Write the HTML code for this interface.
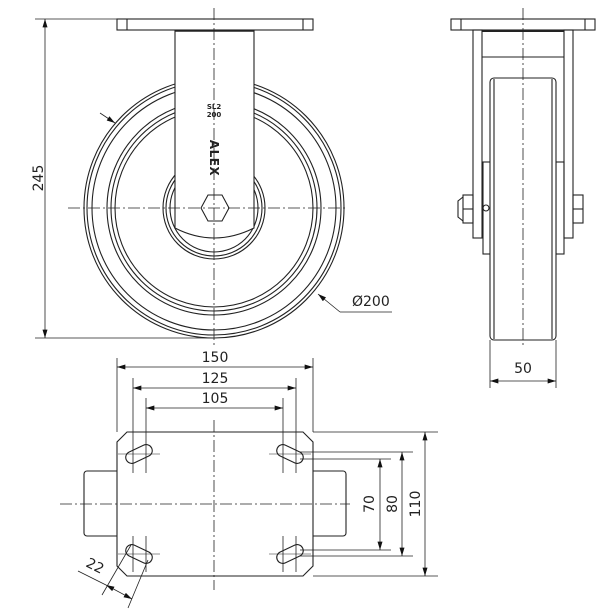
<!DOCTYPE html>
<html><head><meta charset="utf-8"><style>
html,body{margin:0;padding:0;background:#fff;}
svg{display:block;}
text{font-family:"DejaVu Sans","Liberation Sans",sans-serif;font-size:14px;fill:#222;}
</style></head><body>
<svg width="600" height="610" viewBox="0 0 600 610" xmlns="http://www.w3.org/2000/svg">
<defs>
<marker id="a" viewBox="0 0 10 6" refX="10" refY="3" markerWidth="9" markerHeight="5" orient="auto-start-reverse" markerUnits="userSpaceOnUse"><path d="M0,0L10,3L0,6z" fill="#111"/></marker>
</defs>
<g fill="none" stroke="#222" stroke-width="1.1">
<g>
<circle cx="214" cy="208" r="130"/><circle cx="214" cy="208" r="127"/><circle cx="214" cy="208" r="122"/>
<circle cx="214" cy="208" r="107"/><circle cx="214" cy="208" r="103"/><circle cx="214" cy="208" r="99"/>
<circle cx="214" cy="208" r="51"/><circle cx="214" cy="208" r="48"/><circle cx="214" cy="208" r="44"/>
</g>
<path d="M175,30 L175,228 Q214,248 254,228 L254,30 Z" fill="#fff"/>
<line x1="175" y1="30.5" x2="254" y2="30.5" stroke-width="2.5"/>
<rect x="117" y="19" width="196" height="11" fill="#fff"/>
<line x1="127" y1="19" x2="127" y2="30"/><line x1="303" y1="19" x2="303" y2="30"/>
<polygon points="201,208 208,195 222,195 229,208 222,221 208,221" fill="#fff"/>
<g stroke-width="0.8" stroke-dasharray="12,3,2,3">
<line x1="68" y1="208" x2="345" y2="208"/>
<line x1="214" y1="8" x2="214" y2="345"/>
</g>
<g stroke-width="0.8">
<line x1="35" y1="19" x2="117" y2="19"/><line x1="35" y1="338" x2="214" y2="338"/>
<line x1="45" y1="19" x2="45" y2="338" marker-start="url(#a)" marker-end="url(#a)"/>
<line x1="100" y1="113" x2="115" y2="123" marker-end="url(#a)"/>
<line x1="340" y1="312" x2="318" y2="294" marker-end="url(#a)"/>
<line x1="340" y1="312" x2="392" y2="312"/>
</g>

<rect x="451" y="19" width="144" height="11" fill="#fff"/>
<line x1="461" y1="19" x2="461" y2="30"/><line x1="585" y1="19" x2="585" y2="30"/>
<rect x="473" y="30" width="9" height="208"/><rect x="564" y="30" width="9" height="208"/>
<line x1="482" y1="57" x2="564" y2="57"/>
<line x1="482" y1="31" x2="564" y2="31" stroke-width="2"/>
<rect x="483" y="162" width="8" height="92"/><rect x="556" y="162" width="8" height="92"/>
<rect x="490" y="78" width="66" height="262" rx="4" fill="#fff"/>
<line x1="494" y1="79" x2="494" y2="339"/><line x1="552" y1="79" x2="552" y2="339"/>
<rect x="573" y="195" width="10" height="28"/><line x1="573" y1="209" x2="583" y2="209"/>
<rect x="463" y="195" width="10" height="28"/><line x1="463" y1="209" x2="473" y2="209"/>
<path d="M463,197 L458,201 L458,217 L463,221"/>
<circle cx="486" cy="208" r="3"/>
<line x1="523" y1="8" x2="523" y2="345" stroke-width="0.8" stroke-dasharray="12,3,2,3"/>
<g stroke-width="0.8">
<line x1="490" y1="340" x2="490" y2="388"/><line x1="556" y1="340" x2="556" y2="388"/>
<line x1="490" y1="381" x2="556" y2="381" marker-start="url(#a)" marker-end="url(#a)"/>
</g>

<rect x="84" y="471" width="38" height="65" rx="3"/>
<rect x="308" y="471" width="38" height="65" rx="3"/>
<polygon points="127,432 303,432 313,442 313,566 303,576 127,576 117,566 117,442" fill="#fff"/>
<g>
<rect x="125" y="448" width="28" height="12" rx="6" transform="rotate(-25 139 454)"/>
<rect x="276" y="448" width="28" height="12" rx="6" transform="rotate(25 290 454)"/>
<rect x="125" y="548" width="28" height="12" rx="6" transform="rotate(25 139 554)"/>
<rect x="276" y="548" width="28" height="12" rx="6" transform="rotate(-25 290 554)"/>
</g>
<g stroke-width="0.6">
<line x1="118" y1="454" x2="160" y2="454"/><line x1="269" y1="454" x2="311" y2="454"/>
<line x1="118" y1="554" x2="160" y2="554"/><line x1="269" y1="554" x2="311" y2="554"/>
</g>
<g stroke-width="0.8" stroke-dasharray="12,3,2,3">
<line x1="60" y1="504" x2="350" y2="504"/>
<line x1="214" y1="420" x2="214" y2="590"/>
</g>
<g stroke-width="0.8">
<line x1="117" y1="358" x2="117" y2="432"/><line x1="313" y1="358" x2="313" y2="432"/>
<line x1="133" y1="378" x2="133" y2="473"/><line x1="296" y1="378" x2="296" y2="473"/>
<line x1="146" y1="398" x2="146" y2="473"/><line x1="283" y1="398" x2="283" y2="473"/>
<line x1="133" y1="536" x2="133" y2="572"/><line x1="146" y1="536" x2="146" y2="572"/>
<line x1="283" y1="536" x2="283" y2="572"/><line x1="296" y1="536" x2="296" y2="572"/>
<line x1="117" y1="367" x2="313" y2="367" marker-start="url(#a)" marker-end="url(#a)"/>
<line x1="133" y1="388" x2="296" y2="388" marker-start="url(#a)" marker-end="url(#a)"/>
<line x1="146" y1="408" x2="283" y2="408" marker-start="url(#a)" marker-end="url(#a)"/>
<line x1="313" y1="432" x2="438" y2="432"/><line x1="313" y1="576" x2="438" y2="576"/>
<line x1="300" y1="452" x2="413" y2="452"/><line x1="300" y1="556" x2="413" y2="556"/>
<line x1="300" y1="459" x2="391" y2="459"/><line x1="300" y1="550" x2="391" y2="550"/>
<line x1="425" y1="432" x2="425" y2="576" marker-start="url(#a)" marker-end="url(#a)"/>
<line x1="402" y1="452" x2="402" y2="556" marker-start="url(#a)" marker-end="url(#a)"/>
<line x1="380" y1="459" x2="380" y2="550" marker-start="url(#a)" marker-end="url(#a)"/>
<line x1="131" y1="545" x2="102" y2="595"/><line x1="148" y1="560" x2="128" y2="608"/>
<line x1="78" y1="571" x2="106" y2="585"/>
<line x1="106" y1="585" x2="132" y2="599" marker-start="url(#a)" marker-end="url(#a)"/>
</g>
</g>
<text x="38" y="178" text-anchor="middle" transform="rotate(-90 38 178)" dy="5">245</text>
<text x="352" y="306">Ø200</text>
<text x="523" y="373" text-anchor="middle">50</text>
<text x="215" y="362" text-anchor="middle">150</text>
<text x="215" y="383" text-anchor="middle">125</text>
<text x="215" y="403" text-anchor="middle">105</text>
<text x="369" y="504" text-anchor="middle" dy="5" transform="rotate(-90 369 504)">70</text>
<text x="392" y="504" text-anchor="middle" dy="5" transform="rotate(-90 392 504)">80</text>
<text x="415" y="504" text-anchor="middle" dy="5" transform="rotate(-90 415 504)">110</text>
<text x="93" y="570" text-anchor="middle" transform="rotate(27 93 570)">22</text>
<text x="214" y="109" text-anchor="middle" style="font-size:7px;font-weight:bold">SL2</text>
<text x="214" y="117" text-anchor="middle" style="font-size:7px;font-weight:bold">200</text>
<text x="214" y="158" text-anchor="middle" dy="4" transform="rotate(90 214 158)" style="font-size:12px;font-weight:bold;letter-spacing:0.5px">ALEX</text>
</svg>
</body></html>
